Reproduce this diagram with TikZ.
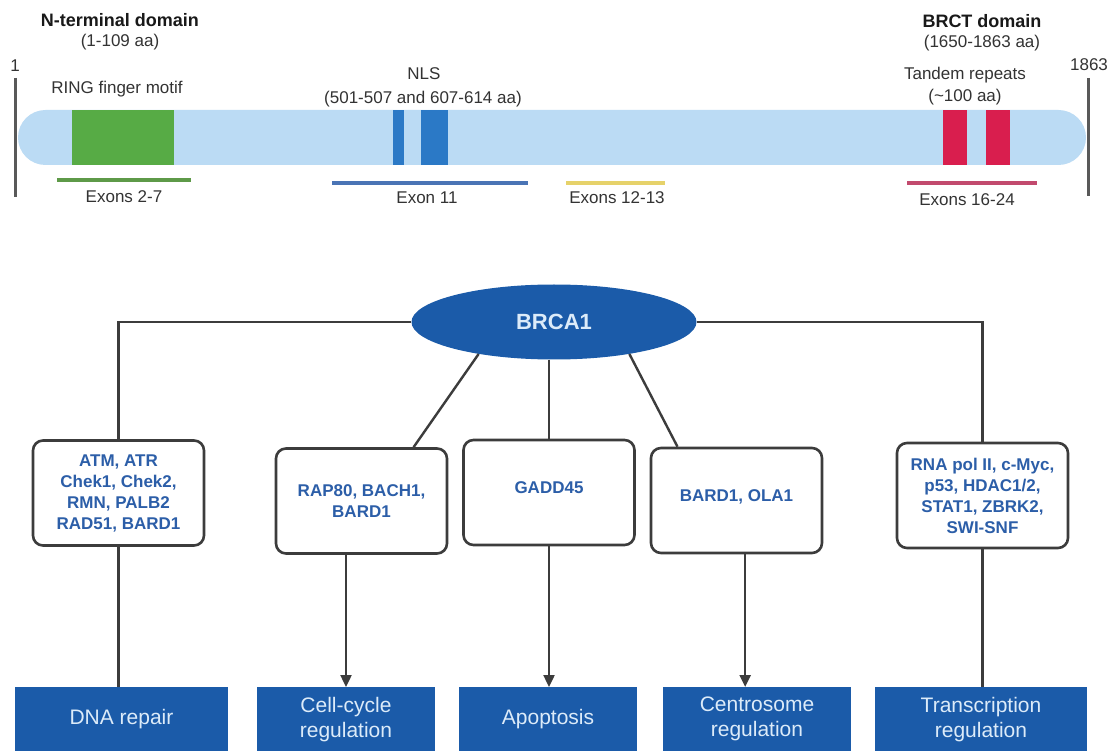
\documentclass[tikz,border=0pt]{standalone}
\usepackage{fontspec}
\setmainfont{Liberation Sans}
\usepackage{xcolor}
\usetikzlibrary{positioning,calc,shapes.geometric,arrows.meta}

\definecolor{barblue}{HTML}{BBDBF4}
\definecolor{ringgreen}{HTML}{57AB45}
\definecolor{nlsblue}{HTML}{2B79C6}
\definecolor{brctred}{HTML}{D91E4E}
\definecolor{exgreen}{HTML}{5E9A48}
\definecolor{exblue}{HTML}{4A74B5}
\definecolor{exyellow}{HTML}{E6D26A}
\definecolor{exred}{HTML}{C24A6E}
\definecolor{darkblue}{HTML}{1B5BA9}
\definecolor{textblue}{HTML}{2C5EA8}
\definecolor{lighttext}{HTML}{DCEBF9}
\definecolor{linegrey}{HTML}{3C3C3C}

\tikzset{
	lbl/.style={font=\fontsize{17}{20}\selectfont, text=black!80, inner sep=0pt},
	domlbl/.style={font=\fontsize{18}{21}\selectfont\bfseries, text=black!90, inner sep=0pt},
	partner/.style={draw=linegrey, line width=2.6pt, rounded corners=10pt, fill=white, minimum width=171pt, minimum height=105pt, align=center, text=textblue, font=\fontsize{17}{21}\selectfont\bfseries, inner sep=0pt},
	outcome/.style={fill=darkblue, anchor=north, minimum height=64pt, align=center, text=lighttext, font=\fontsize{21}{25}\selectfont, inner sep=0pt},
	link/.style={draw=linegrey, line width=2.4pt},
	arrowlink/.style={link, -{Triangle[length=12pt,width=11pt]}},
	exon/.style={line width=3.2pt},
	ruler/.style={draw=black!65, line width=3pt}
}

\begin{document}
\begin{tikzpicture}[x=1pt,y=-1pt]
			\useasboundingbox (0,0) rectangle (1112,751);
			\fill[white] (0,0) rectangle (1112,751);

			% protein bar with its domains
			\fill[barblue, rounded corners=27.5pt] (18,110) rectangle (1086,165);
			\fill[ringgreen] (72,110) rectangle (174,165);
			\fill[nlsblue] (393,110) rectangle (404,165);
			\fill[nlsblue] (421,110) rectangle (448,165);
			\fill[brctred] (943,110) rectangle (967,165);
			\fill[brctred] (986,110) rectangle (1010,165);

			% ends of the chain
			\draw[ruler] (15,78) -- (15,197);
			\draw[ruler] (1088,78) -- (1088,196);
			\node[lbl] (first) at (15,66) {1};
			\node[lbl] (last) at (1089,65) {1863};

			% exon spans
			\draw[exon, exgreen] (57,180) -- (191,180);
			\draw[exon, exblue] (332,183) -- (528,183);
			\draw[exon, exyellow] (566,183) -- (665,183);
			\draw[exon, exred] (907,183) -- (1037,183);
			\node[lbl] (ex27) at (124,197) {Exons 2-7};
			\node[lbl] (ex11) at (427,198) {Exon 11};
			\node[lbl] (ex1213) at (617,198) {Exons 12-13};
			\node[lbl] (ex1624) at (967,200) {Exons 16-24};

			% domain labels
			\node[domlbl] (nterm) at (120,20) {N-terminal domain};
			\node[lbl] (ntermaa) at (120,42) {(1-109 aa)};
			\node[lbl] (ring) at (117,89) {RING finger motif};
			\node[lbl] (nls) at (424,74) {NLS};
			\node[lbl] (nlsaa) at (423,99) {(501-507 and 607-614 aa)};
			\node[domlbl] (brct) at (982,21) {BRCT domain};
			\node[lbl] (brctaa) at (982,43) {(1650-1863 aa)};
			\node[lbl] (tandem) at (965,75) {Tandem repeats};
			\node[lbl] (tandemaa) at (965,97) {(\textasciitilde100 aa)};

			% BRCA1 and its partners
			\node[ellipse, fill=darkblue, minimum width=285pt, minimum height=75pt, inner sep=0pt, text=lighttext, font=\fontsize{22}{26}\selectfont\bfseries] (brca) at (554,322) {BRCA1};
			\node[partner] (atm) at (118.5,493) {ATM, ATR\\Chek1, Chek2,\\RMN, PALB2\\RAD51, BARD1};
			\node[partner] (rap) at (361.5,501) {RAP80, BACH1,\\BARD1};
			\node[partner, text depth=10pt] (gadd) at (549,492.5) {GADD45};
			\node[partner, text depth=10pt] (ola) at (736.5,500.5) {BARD1, OLA1};
			\node[partner] (rna) at (982.5,495.5) {RNA pol II, c-Myc,\\p53, HDAC1/2,\\STAT1, ZBRK2,\\SWI-SNF};

			% functions
			\node[outcome, minimum width=213pt] (dna) at (121.5,687) {DNA repair};
			\node[outcome, minimum width=178pt] (cell) at (346,687) {Cell-cycle\\regulation};
			\node[outcome, minimum width=178pt] (apo) at (548,687) {Apoptosis};
			\node[outcome, minimum width=188pt] (centro) at (757,687) {Centrosome\\regulation};
			\node[outcome, minimum width=212pt] (trans) at (981,687) {Transcription\\regulation};

			% BRCA1 to partners
			\coordinate (lcorner) at (118.5,322);
			\coordinate (rcorner) at (982.5,322);
			\draw[link] (brca.west) -- (lcorner) -- (atm.north);
			\draw[link] (brca.east) -- (rcorner) -- (rna.north);
			\draw[link] (brca.203) -- ($(rap.north west)!0.8!(rap.north east)$);
			\draw[link] (gadd.north |- brca.south) -- (gadd.north);
			\draw[link] (brca.337) -- ($(ola.north west)!0.16!(ola.north east)$);

			% partners to functions
			\coordinate (olafoot) at ($(ola.south west)!0.55!(ola.south east)$);
			\draw[link] (atm.south) -- (atm.south |- dna.north);
			\draw[arrowlink] (rap.south -| cell.north) -- (cell.north);
			\draw[arrowlink] (gadd.south) -- (gadd.south |- apo.north);
			\draw[arrowlink] (olafoot) -- (olafoot |- centro.north);
			\draw[link] (rna.south) -- (rna.south |- trans.north);

		\end{tikzpicture}
\end{document}
